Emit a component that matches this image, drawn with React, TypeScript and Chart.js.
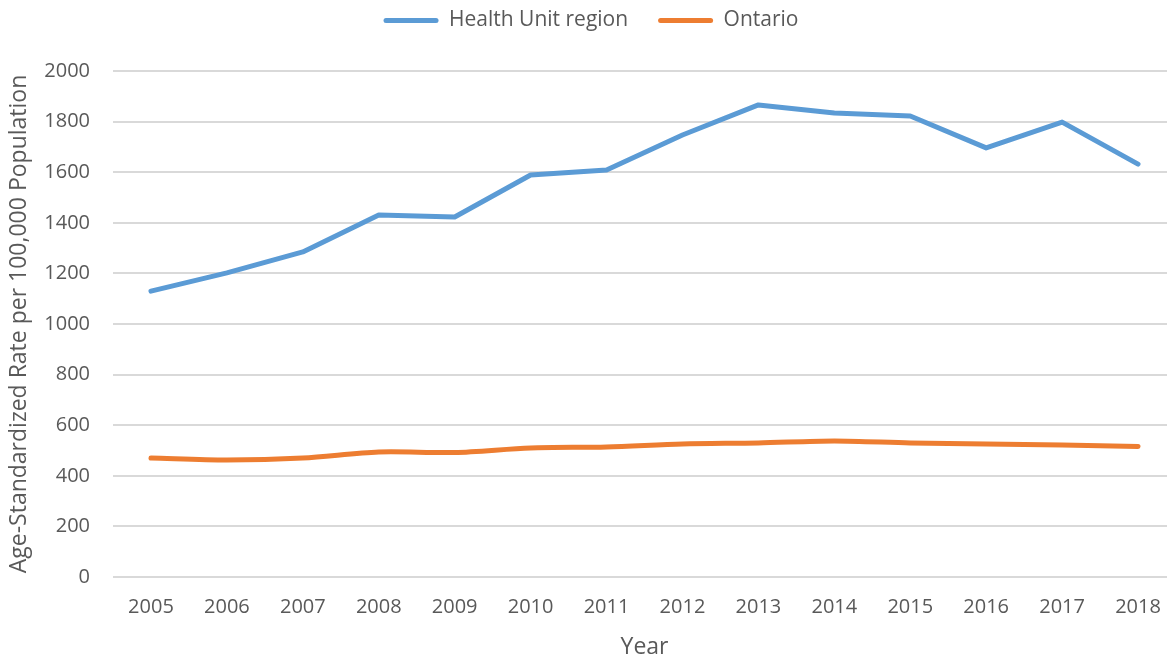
import React, { useEffect, useRef } from "react";
import { Chart, registerables } from "chart.js";

Chart.register(...registerables);

const years = ["2005", "2006", "2007", "2008", "2009", "2010", "2011", "2012", "2013", "2014", "2015", "2016", "2017", "2018"];
const healthUnit = [1130, 1202, 1285, 1431, 1423, 1589, 1609, 1747, 1866, 1834, 1822, 1696, 1798, 1632];
const ontario = [470, 462, 470, 494, 492, 510, 514, 526, 530, 538, 530, 526, 522, 516];

const FONT = "'Open Sans', 'DejaVu Sans', sans-serif";
const TEXT = "#595959";

const legendGap = {
  id: "legendGap",
  beforeInit(chart: any) {
    const orig = chart.legend.fit;
    chart.legend.fit = function fit() {
      orig.bind(chart.legend)();
      this.height += 30;
    };
  },
};

export default function App() {
  const ref = useRef<HTMLCanvasElement | null>(null);

  useEffect(() => {
    document.body.style.margin = "0";
    document.body.style.overflow = "hidden";
    if (!ref.current) return;
    const chart = new Chart(ref.current, {
      type: "line",
      data: {
        labels: years,
        datasets: [
          {
            label: "Health Unit region",
            data: healthUnit,
            borderColor: "#5B9BD5",
            backgroundColor: "#5B9BD5",
            borderWidth: 5,
            pointRadius: 0,
            borderCapStyle: "round",
            borderJoinStyle: "round",
            tension: 0,
          },
          {
            label: "Ontario",
            data: ontario,
            borderColor: "#ED7D31",
            backgroundColor: "#ED7D31",
            borderWidth: 5,
            pointRadius: 0,
            borderCapStyle: "round",
            borderJoinStyle: "round",
            tension: 0.3,
          },
        ],
      },
      plugins: [legendGap],
      options: {
        responsive: false,
        animation: false,
        layout: { padding: { top: -20, right: 4, left: 6, bottom: 0 } },
        plugins: {
          tooltip: { enabled: false },
          legend: {
            position: "top",
            labels: {
              boxWidth: 55,
              boxHeight: 5,
              padding: 30,
              color: TEXT,
              font: { family: FONT, size: 21 },
              useBorderRadius: true,
              borderRadius: 2.5,
              generateLabels: (c: any) =>
                c.data.datasets.map((d: any, i: number) => ({
                  text: d.label,
                  fillStyle: d.borderColor,
                  strokeStyle: d.borderColor,
                  lineWidth: 0,
                  fontColor: TEXT,
                  datasetIndex: i,
                  borderRadius: 2.5,
                })),
            },
          },
        },
        scales: {
          x: {
            offset: true,
            grid: { display: false, drawTicks: false },
            border: { display: false },
            ticks: { color: TEXT, font: { family: FONT, size: 20 }, padding: 18, maxRotation: 0 },
            title: { display: true, text: "Year", color: TEXT, font: { family: FONT, size: 23 }, padding: { top: 0, bottom: -3 } },
            afterFit: (scale: any) => {
              scale.height = 81;
            },
          },
          y: {
            min: 0,
            max: 2000,
            ticks: {
              stepSize: 200,
              color: TEXT,
              font: { family: FONT, size: 20 },
              padding: 23,
              callback: (v: any) => String(v),
            },
            grid: { color: "#d9d9d9", lineWidth: 2, drawTicks: false },
            border: { display: false },
            title: {
              display: true,
              text: "Age-Standardized Rate per 100,000 Population",
              color: TEXT,
              font: { family: FONT, size: 23 },
              padding: { top: 0, bottom: 0 },
            },
            afterFit: (scale: any) => {
              scale.width = 107;
            },
          },
        },
      },
    });
    return () => chart.destroy();
  }, []);

  return (
    <div style={{ position: "fixed", left: 0, top: 0, width: 1167, height: 658, overflow: "hidden", background: "#fff" }}>
      <canvas ref={ref} width={1180} height={658} style={{ display: "block" }} />
    </div>
  );
}
